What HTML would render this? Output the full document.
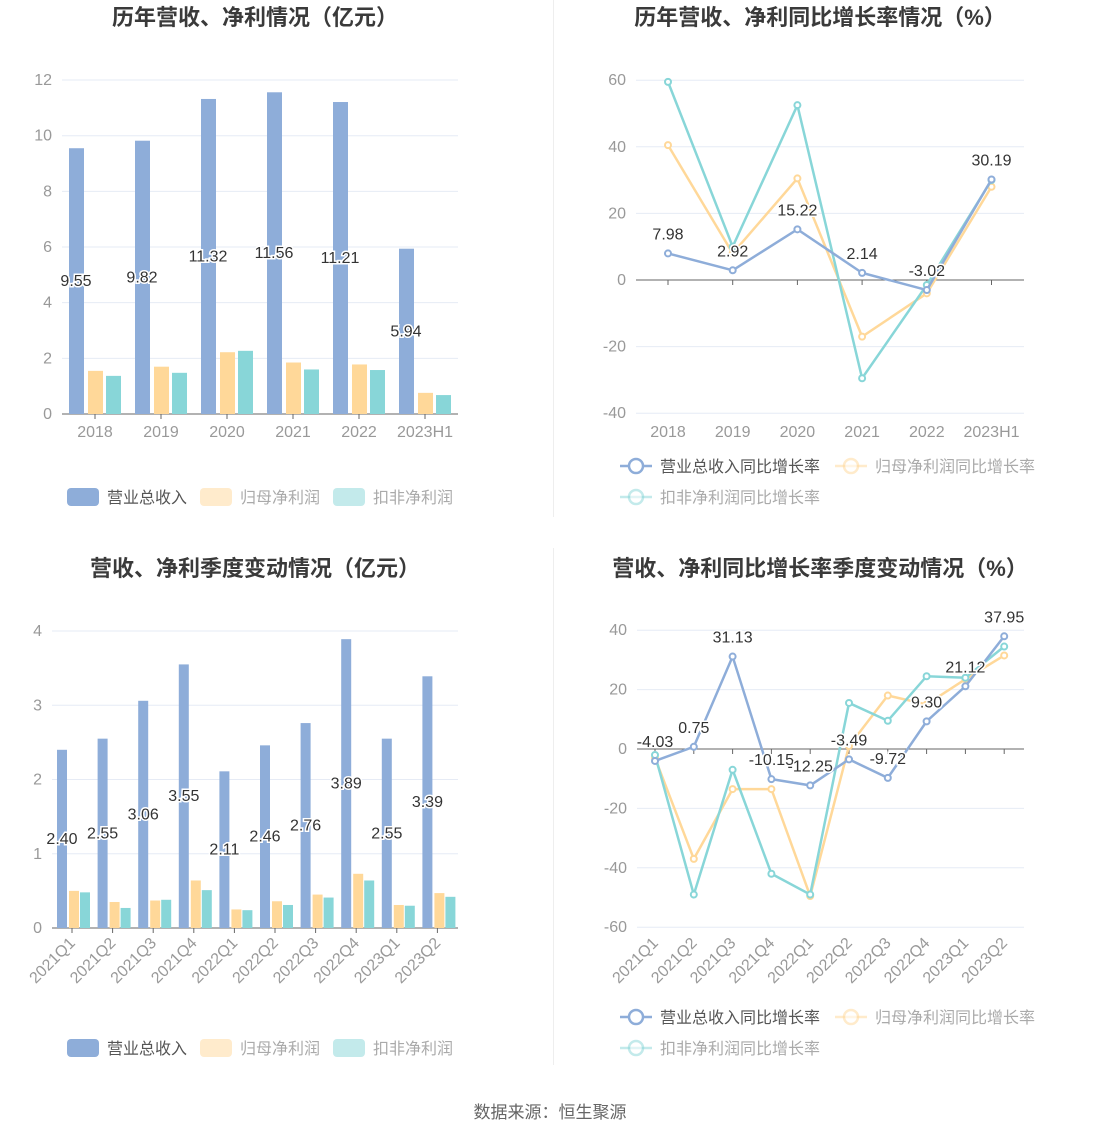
<!DOCTYPE html>
<html><head><meta charset="utf-8"><style>
body{margin:0;background:#fff;}
svg{display:block;font-family:"Liberation Sans","Noto Sans CJK SC",sans-serif;}
</style></head><body>
<svg id="s" width="1101" height="1138" viewBox="0 0 1101 1138" xmlns="http://www.w3.org/2000/svg"></svg>
<script>
const B='#8eadd9',O='#ffd899',T='#88d6d8';
let h='';
function t(x,y,s,o){o=o||{};h+=`<text x="${x}" y="${y}" font-size="${o.fs||15}" fill="${o.c||'#999'}" text-anchor="${o.a||'middle'}" ${o.w?'font-weight="bold"':''} ${o.st?'stroke="#fff" stroke-width="3" paint-order="stroke"':''} ${o.tr?`transform="${o.tr}"`:''}>${s}</text>`;}
h+=`<line x1="553.5" y1="0" x2="553.5" y2="517" stroke="#eee"/><line x1="553.5" y1="548" x2="553.5" y2="1065" stroke="#eee"/>`;
t(255,25,'历年营收、净利情况（亿元）',{fs:22,c:'#3a3a3a',w:1});
t(820,25,'历年营收、净利同比增长率情况（%）',{fs:22,c:'#3a3a3a',w:1});
t(255,576,'营收、净利季度变动情况（亿元）',{fs:22,c:'#3a3a3a',w:1});
t(820,576,'营收、净利同比增长率季度变动情况（%）',{fs:22,c:'#3a3a3a',w:1});
t(550,1118,'数据来源：恒生聚源',{fs:17,c:'#666'});
function grid(x0,x1,vals,yf,zero){vals.forEach(v=>{const y=yf(v);h+=`<line x1="${x0}" x2="${x1}" y1="${y}" y2="${y}" stroke="${v===zero?'#666':'#e6ebf5'}"/>`;t(x0-10,y+5,v,{a:'end',fs:16});});}
// chart1
{const x0=62,x1=458,yf=v=>414-v*27.83,sp=66;
grid(x0,x1,[0,2,4,6,8,10,12],yf,0);
const bl=[9.55,9.82,11.32,11.56,11.21,5.94],or=[1.55,1.7,2.22,1.85,1.78,0.76],te=[1.37,1.48,2.27,1.6,1.58,0.68],lab=['2018','2019','2020','2021','2022','2023H1'];
for(let i=0;i<6;i++){const s=x0+sp*i;
[[bl,7,B],[or,26,O],[te,44,T]].forEach(([a,o,c])=>{h+=`<rect x="${s+o}" y="${yf(a[i])}" width="15" height="${414-yf(a[i])}" fill="${c}"/>`;});
h+=`<line x1="${s+33}" x2="${s+33}" y1="414" y2="419" stroke="#666"/>`;
t(s+33,437,lab[i],{fs:16});t(s+14,yf(bl[i]*0.5)+5,bl[i].toFixed(2),{c:'#333',fs:16,st:1});}
}
// chart3
{const x0=52,x1=458,yf=v=>928-v*74.25,sp=40.6;
grid(x0,x1,[0,1,2,3,4],yf,0);
const bl=[2.40,2.55,3.06,3.55,2.11,2.46,2.76,3.89,2.55,3.39],or=[.5,.35,.37,.64,.25,.36,.45,.73,.31,.47],te=[.48,.27,.38,.51,.24,.31,.41,.64,.30,.42],lab=['2021Q1','2021Q2','2021Q3','2021Q4','2022Q1','2022Q2','2022Q3','2022Q4','2023Q1','2023Q2'];
for(let i=0;i<10;i++){const s=x0+sp*i;
[[bl,5,B],[or,17,O],[te,28,T]].forEach(([a,o,c])=>{h+=`<rect x="${s+o}" y="${yf(a[i])}" width="10" height="${928-yf(a[i])}" fill="${c}"/>`;});
const cx=s+20;h+=`<line x1="${cx}" x2="${cx}" y1="928" y2="933" stroke="#666"/>`;
t(cx+4,944,lab[i],{fs:16,a:'end',tr:`rotate(-45 ${cx+4} 944)`});t(s+10,yf(bl[i]*0.5)+5,bl[i].toFixed(2),{c:'#333',fs:16,st:1});}
}
function lines(x0,x1,yf,gv,cx,series,lab,rot,labels,ly){
grid(x0,x1,gv,yf,0);const y0=yf(0);
cx.forEach((x,i)=>{h+=`<line x1="${x}" x2="${x}" y1="${y0}" y2="${y0+5}" stroke="#666"/>`;
if(rot)t(x+4,ly,lab[i],{fs:16,a:'end',tr:`rotate(-45 ${x+4} ${ly})`});else t(x,ly,lab[i],{fs:16});});
series.forEach(([d,c])=>{h+=`<polyline fill="none" stroke="${c}" stroke-width="2.5" points="${d.map((v,i)=>cx[i]+','+yf(v)).join(' ')}"/>`;
d.forEach((v,i)=>{h+=`<circle cx="${cx[i]}" cy="${yf(v)}" r="3" fill="#fff" stroke="${c}" stroke-width="2"/>`;});});
labels.forEach(([i,v,dy])=>t(cx[i],yf(v)+(dy||-10),v.toFixed(2),{c:'#333',fs:16,st:1}));}
// chart2
{const cx=[0,1,2,3,4,5].map(i=>668+64.7*i);
const bl=[7.98,2.92,15.22,2.14,-3.02,30.19],or=[40.5,8,30.5,-17,-4,28],te=[59.5,10,52.5,-29.5,-1.5,30];
lines(636,1024,v=>280-v*3.33,[-40,-20,0,20,40,60],cx,[[or,O],[te,T],[bl,B]],['2018','2019','2020','2021','2022','2023H1'],0,bl.map((v,i)=>[i,v,-14]),437);}
// chart4
{const cx=[...Array(10).keys()].map(i=>655+38.8*i);
const bl=[-4.03,0.75,31.13,-10.15,-12.25,-3.49,-9.72,9.30,21.12,37.95],or=[-3,-37,-13.5,-13.5,-49.5,1,18,15,23.5,31.5],te=[-2,-49,-7,-42,-49,15.5,9.5,24.5,24,34.5];
lines(637,1024,v=>749-v*2.97,[-60,-40,-20,0,20,40],cx,[[or,O],[te,T],[bl,B]],['2021Q1','2021Q2','2021Q3','2021Q4','2022Q1','2022Q2','2022Q3','2022Q4','2023Q1','2023Q2'],1,bl.map((v,i)=>[i,v,-14]),944);}
// legends
function barLeg(y){[[67,B,'营业总收入'],[200,O,'归母净利润'],[333,T,'扣非净利润']].forEach(([x,c,s],k)=>{h+=`<rect x="${x}" y="${y-9}" width="32" height="18" rx="4" fill="${c}" opacity="${k?0.5:1}"/>`;t(x+40,y+6,s,{a:'start',c:k?'#aaa':'#555',fs:16});});}
function lineLeg(y){[[620,y,B,'营业总收入同比增长率',1],[835,y,O,'归母净利润同比增长率',0],[620,y+31,T,'扣非净利润同比增长率',0]].forEach(([x,yy,c,s,a])=>{h+=`<line x1="${x}" x2="${x+32}" y1="${yy}" y2="${yy}" stroke="${c}" stroke-width="2.5" opacity="${a?1:.5}"/><circle cx="${x+16}" cy="${yy}" r="7" fill="#fff" stroke="${c}" stroke-width="2.5" opacity="${a?1:.5}"/>`;t(x+40,yy+6,s,{a:'start',c:a?'#555':'#aaa',fs:16});});}
barLeg(497);barLeg(1048);lineLeg(466);lineLeg(1017);
document.getElementById('s').innerHTML=h;
</script></body></html>
